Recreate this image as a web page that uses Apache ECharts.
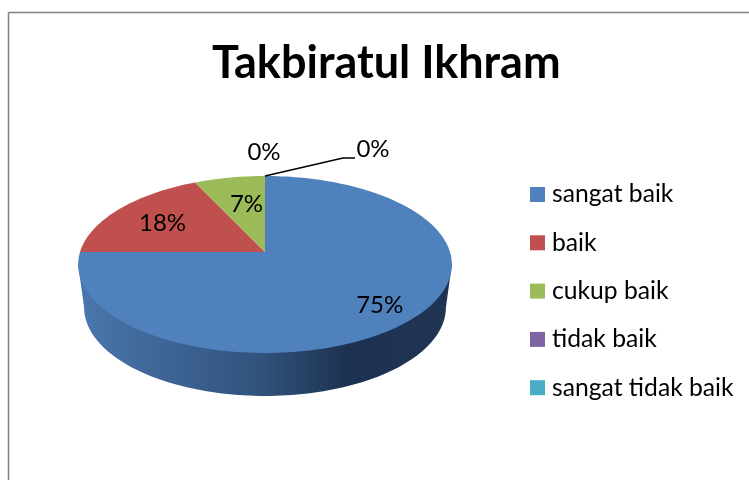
<!DOCTYPE html>
<html>
<head>
<meta charset="utf-8">
<script src="https://cdn.jsdelivr.net/npm/echarts@6/dist/echarts.min.js"></script>
<style>
    html, body { margin: 0; padding: 0; background: #fff; }
    #chart { width: 749px; height: 480px; }
</style>
</head>
<body>
<div id="chart"></div>
<script>
var titleText = 'Takbiratul Ikhram';
var categories = ['sangat baik', 'baik', 'cukup baik', 'tidak baik', 'sangat tidak baik'];
var values = [75, 18, 7, 0, 0];

var colors = ['#4F81BD', '#C0504D', '#9BBB59', '#8064A2', '#4BACC6'];
var fontName = 'Lato';

// tilted pie look: a circle seen through a small perspective
var pie = { x: 265, y: 252, rx: 185, up: 86.7, k: 0.1412, depth: 43, bottomScale: 0.968 };
// where each percent sits: share of radius, then a nudge in pixels
var labelPlace = [
    { r: 0.8, dx: 1, dy: 0 },
    { r: 0.69, dx: 0, dy: 2 },
    { r: 0.49, dx: 0, dy: -9 },
    { r: 1, dx: -1, dy: -24 },
    { r: 1, dx: 108, dy: -27 }
];
// leader line only for the last label
var leaders = [null, null, null, null, [[78, -18], [90, -18]]];

var total = values.reduce(function (a, b) { return a + b; }, 0);

function project(deg, r, bottom) {
    var a = deg * Math.PI / 180;
    var u = Math.sin(a) * r;
    var v = Math.cos(a) * r;
    var w = 1 + pie.k * v;
    var x = pie.rx * u / w;
    var y = -pie.up * v / w;
    if (bottom) {
        return [pie.x + x * pie.bottomScale, pie.y + y + pie.depth];
    }
    return [pie.x + x, pie.y + y];
}

function arc(from, to, bottom, r) {
    var pts = [];
    var n = Math.max(2, Math.ceil(Math.abs(to - from) / 1.5));
    for (var i = 0; i <= n; i++) {
        pts.push(project(from + (to - from) * i / n, r || 1, bottom));
    }
    return pts;
}

function renderSlice(index) {
    return function (params, api) {
        var before = values.slice(0, index).reduce(function (a, b) { return a + b; }, 0);
        var share = api.value(0) / total;
        var start = before / total * 360;
        var end = start + share * 360;
        var children = [];

        // the wall is only seen between the two tangent points of the rim
        var tangent = Math.asin(pie.k) * 180 / Math.PI;
        var wallFrom = Math.max(start, 90 + tangent);
        var wallTo = Math.min(end, 270 - tangent);
        if (wallTo > wallFrom) {
            // upper edge tucked under the face so no pale seam shows on the rim
            var upper = [project(wallFrom, 1, false)]
                .concat(arc(wallFrom, wallTo, false, 0.98))
                .concat([project(wallTo, 1, false)]);
            children.push({
                type: 'polygon',
                shape: { points: upper.concat(arc(wallTo, wallFrom, true)) },
                style: {
                    fill: new echarts.graphic.LinearGradient(78, 0, 452, 0, [
                        { offset: 0, color: '#4A77AD' },
                        { offset: 0.5, color: '#30517A' },
                        { offset: 0.72, color: '#1D3250' },
                        { offset: 1, color: '#1F3553' }
                    ], true)
                }
            });
        }

        if (end > start) {
            children.push({
                type: 'polygon',
                shape: { points: [[pie.x, pie.y]].concat(arc(start, end, false)) },
                style: { fill: colors[index] }
            });
        }

        var mid = (start + end) / 2;
        var place = labelPlace[index];
        var anchor = project(mid, place.r, false);
        if (leaders[index]) {
            var rim = project(mid, 1, false);
            var line = [rim].concat(leaders[index].map(function (p) {
                return [rim[0] + p[0], rim[1] + p[1]];
            }));
            children.push({
                type: 'polyline',
                shape: { points: line },
                style: { fill: null, stroke: '#000', lineWidth: 1.5 }
            });
        }
        children.push({
            type: 'text',
            z2: 10,
            style: {
                x: anchor[0] + place.dx,
                y: anchor[1] + place.dy,
                text: Math.round(share * 100) + '%',
                fill: '#000',
                font: '24px ' + fontName,
                align: 'center',
                verticalAlign: 'middle'
            }
        });
        return { type: 'group', children: children };
    };
}

var myChart = echarts.init(document.getElementById('chart'));
var option = {
    animation: false,
    color: colors,
    title: {
        text: titleText,
        left: 207,
        top: 36,
        textStyle: { fontFamily: fontName, fontSize: 45, fontWeight: 'bold', color: '#000' }
    },
    legend: {
        orient: 'vertical',
        left: 525,
        top: 176,
        icon: 'rect',
        itemWidth: 15,
        itemHeight: 15,
        itemGap: 21.3,
        selectedMode: false,
        data: categories,
        textStyle: { fontFamily: fontName, fontSize: 24.7, color: '#000', padding: [0, 0, 0, 2], lineHeight: 27 }
    },
    graphic: [
        { type: 'line', silent: true, shape: { x1: 8.5, y1: 12.5, x2: 749, y2: 12.5 }, style: { stroke: '#808080', lineWidth: 1.5 } },
        { type: 'line', silent: true, shape: { x1: 8.5, y1: 12.5, x2: 8.5, y2: 480 }, style: { stroke: '#808080', lineWidth: 1.5 } }
    ],
    series: categories.map(function (name, i) {
        return {
            type: 'custom',
            name: name,
            coordinateSystem: 'none',
            silent: true,
            itemStyle: { color: colors[i] },
            data: [[values[i]]],
            renderItem: renderSlice(i)
        };
    })
};
myChart.setOption(option);
</script>
</body>
</html>
